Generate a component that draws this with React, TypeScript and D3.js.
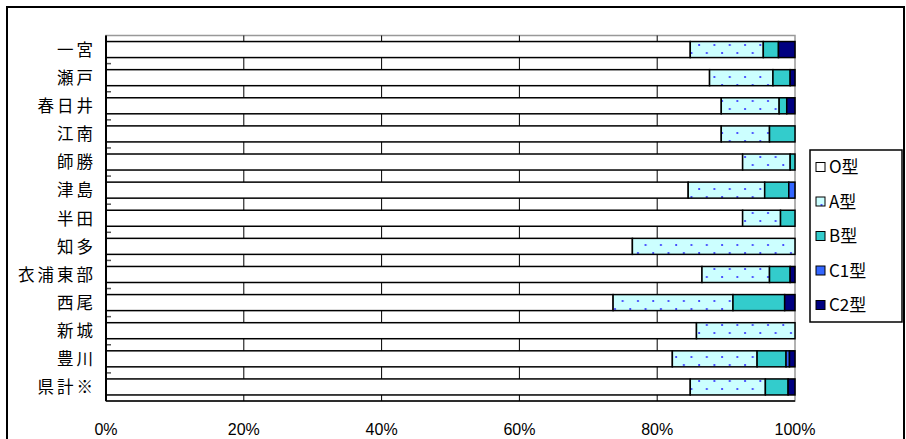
import React, { useEffect, useRef } from 'react';
import * as d3 from 'd3';

const categories = ['一宮', '瀬戸', '春日井', '江南', '師勝', '津島', '半田', '知多', '衣浦東部', '西尾', '新城', '豊川', '県計※'];
const seriesNames = ['O型', 'A型', 'B型', 'C1型', 'C2型'];
const valuesO = [84.8, 87.6, 89.3, 89.3, 92.4, 84.5, 92.4, 76.4, 86.5, 73.6, 85.7, 82.2, 84.8];
const valuesA = [10.6, 9.2, 8.4, 7.0, 6.9, 11.1, 5.5, 23.6, 9.8, 17.4, 14.3, 12.3, 10.9];
const valuesB = [2.2, 2.5, 1.1, 3.7, 0.7, 3.5, 2.1, 0, 3.0, 7.5, 0, 4.2, 3.3];
const valuesC1 = [0, 0, 0, 0, 0, 0.9, 0, 0, 0, 0, 0, 0.5, 0];
const valuesC2 = [2.4, 0.7, 1.2, 0, 0, 0, 0, 0, 0.7, 1.5, 0, 0.8, 1.0];
const xTicks = [0, 20, 40, 60, 80, 100];

const fills = ['#ffffff', 'url(#dotA)', '#33cccc', '#3366ff', '#000080'];

const App: React.FC = () => {
  const svgRef = useRef<SVGSVGElement | null>(null);

  useEffect(() => {
    if (!svgRef.current) return;
    const width = 906;
    const height = 439;
    const svg = d3.select(svgRef.current).html('');

    const defs = svg.append('defs');
    const pat = defs.append('pattern')
      .attr('id', 'dotA')
      .attr('patternUnits', 'userSpaceOnUse')
      .attr('width', 15.3)
      .attr('height', 16)
      .attr('x', 0)
      .attr('y', 2);
    pat.append('rect').attr('width', 15.3).attr('height', 16).attr('fill', '#ccffff');
    pat.append('circle').attr('cx', 3).attr('cy', 3).attr('r', 1.1).attr('fill', '#3333ff');
    pat.append('circle').attr('cx', 10.65).attr('cy', 11).attr('r', 1.1).attr('fill', '#3333ff');

    svg.append('rect')
      .attr('width', width).attr('height', height).attr('fill', '#fff');

    // outer frame
    svg.append('rect')
      .attr('x', 7).attr('y', 7)
      .attr('width', 897).attr('height', 460)
      .attr('fill', 'none').attr('stroke', '#000').attr('stroke-width', 2);

    const left = 106, right = 795, top = 35.5, bottom = 401;

    const x = d3.scaleLinear().domain([0, 100]).range([left, right]);
    const y = d3.scaleBand<string>()
      .domain(categories)
      .range([top, bottom])
      .paddingInner(0.43)
      .paddingOuter(0.215);

    // plot area border
    svg.append('rect')
      .attr('x', left).attr('y', top)
      .attr('width', right - left).attr('height', bottom - top)
      .attr('fill', '#fff').attr('stroke', '#999').attr('stroke-width', 1.5);

    // gridlines
    svg.selectAll('.grid')
      .data(xTicks.slice(1, -1))
      .enter()
      .append('line')
      .attr('x1', d => x(d)).attr('x2', d => x(d))
      .attr('y1', top).attr('y2', bottom)
      .attr('stroke', '#000').attr('stroke-width', 1);

    // category ticks
    const step = y.step();
    svg.selectAll('.ctick')
      .data(categories.slice(1))
      .enter()
      .append('line')
      .attr('x1', left).attr('x2', left + 5)
      .attr('y1', d => (y(d) as number) - step * 0.215)
      .attr('y2', d => (y(d) as number) - step * 0.215)
      .attr('stroke', '#555').attr('stroke-width', 1.5);

    const rows = categories.map((c, i) => ({
      cat: c,
      'O型': valuesO[i], 'A型': valuesA[i], 'B型': valuesB[i], 'C1型': valuesC1[i], 'C2型': valuesC2[i]
    }));
    const stack = d3.stack<any>().keys(seriesNames);
    const layers = stack(rows);

    layers.forEach((layer, li) => {
      svg.append('g')
        .selectAll('rect')
        .data(layer.filter(d => d[1] - d[0] > 0))
        .enter()
        .append('rect')
        .attr('x', d => x(d[0]))
        .attr('y', d => y(d.data.cat) as number)
        .attr('width', d => x(Math.min(d[1], 100)) - x(d[0]))
        .attr('height', y.bandwidth())
        .attr('fill', fills[li])
        .attr('stroke', '#000')
        .attr('stroke-width', 1.5);
    });

    // axes lines
    svg.append('line')
      .attr('x1', left).attr('x2', left).attr('y1', top).attr('y2', bottom)
      .attr('stroke', '#000').attr('stroke-width', 2);
    svg.append('line')
      .attr('x1', left).attr('x2', right).attr('y1', bottom).attr('y2', bottom)
      .attr('stroke', '#000').attr('stroke-width', 1.5);

    // category labels
    svg.selectAll('.clabel')
      .data(categories)
      .enter()
      .append('text')
      .attr('x', 96)
      .attr('y', d => (y(d) as number) + y.bandwidth() / 2)
      .attr('dy', '0.38em')
      .attr('text-anchor', 'end')
      .attr('font-family', '"Noto Sans CJK JP", sans-serif')
      .attr('font-size', 16.5)
      .attr('letter-spacing', 3)
      .attr('fill', '#000')
      .text(d => d);

    // x labels
    svg.selectAll('.xlabel')
      .data(xTicks)
      .enter()
      .append('text')
      .attr('x', d => x(d))
      .attr('y', 435)
      .attr('text-anchor', 'middle')
      .attr('font-family', '"Liberation Sans", Arial, sans-serif')
      .attr('font-size', 16)
      .attr('fill', '#000')
      .text(d => `${d}%`);

    // legend
    const lg = svg.append('g');
    lg.append('rect')
      .attr('x', 810).attr('y', 150)
      .attr('width', 92).attr('height', 172)
      .attr('fill', '#fff').attr('stroke', '#000').attr('stroke-width', 1.5);
    seriesNames.forEach((s, i) => {
      const cy = 167 + i * 34.5;
      lg.append('rect')
        .attr('x', 816).attr('y', cy - 4.5)
        .attr('width', 9).attr('height', 9)
        .attr('fill', fills[i])
        .attr('stroke', '#000').attr('stroke-width', 1);
      lg.append('text')
        .attr('x', 829).attr('y', cy)
        .attr('dy', '0.38em')
        .attr('font-family', '"Noto Sans CJK JP", sans-serif')
        .attr('font-size', 17)
        .attr('fill', '#000')
        .text(s);
    });
  }, []);

  return (
    <svg ref={svgRef} width={906} height={439}
      style={{ position: 'absolute', left: 0, top: 0, display: 'block' }} />
  );
};

export default App;
